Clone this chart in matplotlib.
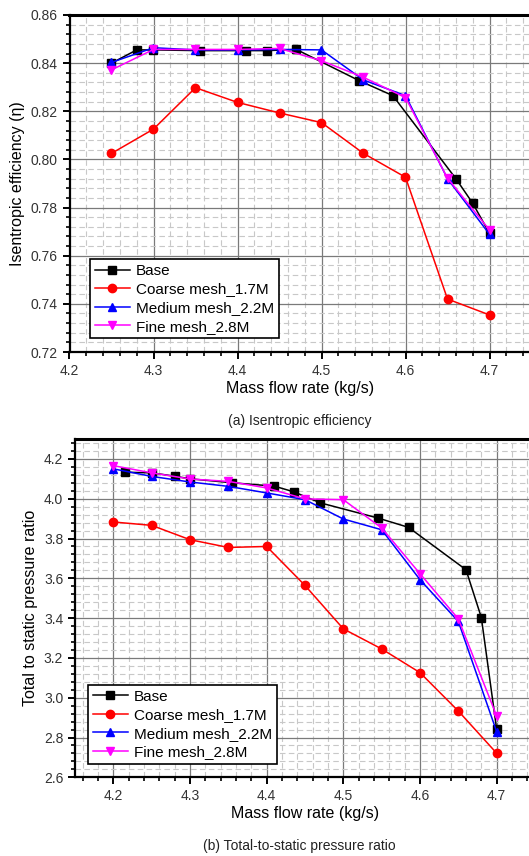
import matplotlib
matplotlib.use("Agg")
import matplotlib.pyplot as plt
from matplotlib.ticker import MultipleLocator, FormatStrFormatter

plt.rcParams['font.family'] = ['Liberation Sans', 'DejaVu Sans']

# ---------- data: (a) isentropic efficiency ----------
base_x_a = [4.25, 4.28, 4.30, 4.355, 4.41, 4.435, 4.47, 4.545, 4.585, 4.66, 4.68, 4.70]
base_eff = [0.8400, 0.8455, 0.8455, 0.8452, 0.8452, 0.8452, 0.8457, 0.8327, 0.8265, 0.7920, 0.7818, 0.7693]
mesh_x = [4.25, 4.30, 4.35, 4.40, 4.45, 4.50, 4.55, 4.60, 4.65, 4.70]
coarse_eff = [0.8025, 0.8126, 0.8298, 0.8237, 0.8193, 0.8153, 0.8025, 0.7926, 0.7420, 0.7354]
medium_eff = [0.8403, 0.8464, 0.8455, 0.8455, 0.8457, 0.8455, 0.8330, 0.8265, 0.7920, 0.7689]
fine_eff = [0.8372, 0.8457, 0.8457, 0.8457, 0.8461, 0.8410, 0.8341, 0.8257, 0.7922, 0.7707]

# ---------- data: (b) total-to-static pressure ratio ----------
base_x_b = [4.215, 4.25, 4.28, 4.30, 4.355, 4.41, 4.435, 4.47, 4.545, 4.585, 4.66, 4.68, 4.70]
base_pr = [4.133, 4.130, 4.113, 4.100, 4.080, 4.063, 4.035, 3.979, 3.903, 3.856, 3.643, 3.403, 2.841]
mesh_x_b = [4.20, 4.25, 4.30, 4.35, 4.40, 4.45, 4.50, 4.55, 4.60, 4.65, 4.70]
coarse_pr = [3.883, 3.866, 3.794, 3.755, 3.760, 3.564, 3.346, 3.245, 3.126, 2.933, 2.721]
medium_pr = [4.150, 4.112, 4.084, 4.062, 4.029, 3.995, 3.898, 3.844, 3.593, 3.383, 2.829]
fine_pr = [4.166, 4.130, 4.099, 4.087, 4.054, 3.999, 3.995, 3.853, 3.623, 3.396, 2.908]

labels = ["Base", "Coarse mesh_1.7M", "Medium mesh_2.2M", "Fine mesh_2.8M"]
colors = ["#000000", "#ff0000", "#0000ff", "#ff00ff"]
markers = ["s", "o", "^", "v"]

W, H = 529, 856
fig = plt.figure(figsize=(W / 100, H / 100), dpi=100)

ax1 = fig.add_axes([69.5 / W, 1 - 352 / H, 462 / W, 337 / H])
ax2 = fig.add_axes([75 / W, 1 - 777.3 / H, 460 / W, 338.3 / H])


def style(ax):
    ax.grid(which='minor', color='#c8c8c8', linestyle=(0, (5, 3)), linewidth=0.8, zorder=0)
    ax.grid(which='major', color='#7a7a7a', linestyle='-', linewidth=0.9, zorder=0)
    ax.set_axisbelow(True)
    ax.spines['right'].set_visible(False)
    ax.spines['top'].set_linewidth(2.2)
    ax.spines['left'].set_linewidth(1.6)
    ax.spines['bottom'].set_linewidth(1.6)
    ax.tick_params(which='major', direction='out', length=5, width=1.4, labelsize=10,
                   labelcolor='#333333', top=False, right=False)
    ax.tick_params(which='minor', direction='out', length=3, width=1.2, top=False, right=False)
    ax.xaxis.set_major_locator(MultipleLocator(0.1))
    ax.xaxis.set_minor_locator(MultipleLocator(0.02))
    ax.xaxis.set_major_formatter(FormatStrFormatter('%.1f'))
    ax.set_xlabel("Mass flow rate (kg/s)", fontsize=11.5, labelpad=2)


def plot_series(ax, xs_list, ys_list):
    handles = []
    for xs, ys, c, m, lab in zip(xs_list, ys_list, colors, markers, labels):
        h, = ax.plot(xs, ys, color=c, marker=m, markersize=6, linewidth=1.1,
                     label=lab, zorder=3)
        handles.append(h)
    return handles


# (a)
style(ax1)
plot_series(ax1, [base_x_a, mesh_x, mesh_x, mesh_x],
            [base_eff, coarse_eff, medium_eff, fine_eff])
ax1.set_xlim(4.2, 4.75)
ax1.set_ylim(0.72, 0.86)
ax1.yaxis.set_major_locator(MultipleLocator(0.02))
ax1.yaxis.set_minor_locator(MultipleLocator(0.004))
ax1.yaxis.set_major_formatter(FormatStrFormatter('%.2f'))
ax1.set_ylabel("Isentropic efficiency (η)", fontsize=11.5, labelpad=4)
leg1 = ax1.legend(loc='upper left', bbox_to_anchor=(90 / W, 1 - 259.3 / H),
                  bbox_transform=fig.transFigure, fontsize=11, frameon=True,
                  fancybox=False, edgecolor='black', framealpha=1, borderaxespad=0,
                  handlelength=2.3, handletextpad=0.4, labelspacing=0.3,
                  borderpad=0.3)
leg1.get_frame().set_linewidth(1.2)

# (b)
style(ax2)
plot_series(ax2, [base_x_b, mesh_x_b, mesh_x_b, mesh_x_b],
            [base_pr, coarse_pr, medium_pr, fine_pr])
ax2.set_xlim(4.15, 4.75)
ax2.set_ylim(2.6, 4.3)
ax2.yaxis.set_major_locator(MultipleLocator(0.2))
ax2.yaxis.set_minor_locator(MultipleLocator(0.04))
ax2.yaxis.set_major_formatter(FormatStrFormatter('%.1f'))
ax2.set_ylabel("Total to static pressure ratio", fontsize=11.5, labelpad=4)
leg2 = ax2.legend(loc='upper left', bbox_to_anchor=(88.3 / W, 1 - 685 / H),
                  bbox_transform=fig.transFigure, fontsize=11, frameon=True,
                  fancybox=False, edgecolor='black', framealpha=1, borderaxespad=0,
                  handlelength=2.3, handletextpad=0.4, labelspacing=0.3,
                  borderpad=0.3)
leg2.get_frame().set_linewidth(1.2)

fig.text(0.5 * (70 + 529) / W, 1 - 421 / H, "(a) Isentropic efficiency",
         ha='center', va='center', fontsize=10, color='#222222')
fig.text(0.5 * (70 + 529) / W, 1 - 846 / H, "(b) Total-to-static pressure ratio",
         ha='center', va='center', fontsize=10, color='#222222')

fig.savefig("out.png", dpi=100)
